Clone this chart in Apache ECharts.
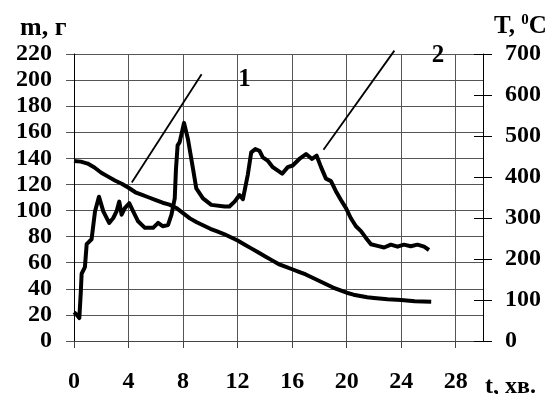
<!DOCTYPE html>
<html>
<head>
<meta charset="utf-8">
<script src="https://cdn.jsdelivr.net/npm/echarts@6/dist/echarts.min.js"></script>
<style>html,body{margin:0;padding:0;background:#fff}#c{width:558px;height:394px}</style>
</head>
<body>
<div id="c"></div>
<script>
// Curve 1: mass m, g (left axis)
const massTime = [0,0.5,1,1.5,2,2.5,3,3.5,4,4.5,5,5.5,6,6.5,7,7.5,8,8.5,9,9.5,10,10.5,11,11.5,12,12.5,13,13.5,14,14.5,15,15.5,16,16.5,17,17.5,18,18.5,19,19.5,20,20.5,21,21.5,22,23,24,25,26.2];
const massValues = [138,137.5,136,133,129,126,123,120.5,117.5,114,112,110,108,106,104.5,102,98,94,91,88.5,86,84,82,79.5,77,74,71,68,65,62,59,57,55,53,51,48.5,46,43.5,41,39,37,35.5,34.5,33.5,33,32,31.5,30.5,30];
// Curve 2: temperature T, °C (right axis)
const tempTime = [0,0.2,0.39,0.5,0.56,0.8,0.93,1.1,1.29,1.54,1.83,2.15,2.58,2.88,3.12,3.32,3.49,3.73,4.05,4.34,4.7,5.2,5.8,6.17,6.5,6.9,7.15,7.39,7.48,7.6,7.75,8.07,8.36,8.73,8.97,9.46,10.07,11.05,11.4,11.78,12.14,12.39,12.75,13.0,13.3,13.6,13.85,14.2,14.58,15.27,15.68,16.04,16.53,17.02,17.46,17.8,18.12,18.48,18.85,19.2,19.58,19.95,20.3,20.68,21.05,21.4,21.78,22.26,22.75,23.24,23.73,24.2,24.7,25.19,25.68,26.04];
const tempValues = [70,64,56,120,164,180,236,242,248,316,352,316,288,300,316,340,308,324,336,316,292,276,276,288,280,283,308,348,420,477,485,532,492,420,372,348,332,328,328,340,356,346,406,460,468,464,448,440,424,408,424,428,444,456,444,452,424,396,390,366,344,324,300,280,268,252,236,232,228,235,230,235,231,235,230,222];
// x axis ticks and labels
const xTicks = [0,4,8,12,16,20,24,28];
// Pointer lines for curve labels (time, m)
const pointer1 = [[4.24,121.5],[9.36,204.5]];
const pointer2 = [[18.3,146.6],[23.5,222.6]];
const curveLabels = [{name:'1', value:[12.5,200.8]},{name:'2', value:[26.7,218.9]}];

const zip = (a,b) => a.map((v,i)=>[v,b[i]]);
const F = '"Liberation Serif", "Times New Roman", serif';
const chart = echarts.init(document.getElementById('c'), null, {renderer:'canvas'});
chart.setOption({
  animation:false,
  backgroundColor:'#fff',
  grid:{left:74,right:75,top:54,bottom:49,containLabel:false},
  title:[
    {text:'m, г', left:15, top:10, textStyle:{fontFamily:F,fontWeight:'bold',fontSize:26,color:'#000'}},
    {text:'{a|T, }{b|0}{a|C}', left:489, top:8, textStyle:{rich:{
      a:{fontFamily:F,fontWeight:'bold',fontSize:25,color:'#000'},
      b:{fontFamily:F,fontWeight:'bold',fontSize:15,color:'#000',verticalAlign:'top',padding:[0,0,12,0]}}}},
    {text:'t, хв.', left:480, top:370, textStyle:{fontFamily:F,fontWeight:'bold',fontSize:24,color:'#000'}}
  ],
  xAxis:{type:'value',min:0,max:30,interval:4,
    axisLine:{show:true,onZero:false,lineStyle:{color:'#444',width:1}},
    axisTick:{show:true,length:7,lineStyle:{color:'#444'}},
    axisLabel:{margin:29,fontFamily:F,fontWeight:'bold',fontSize:24,color:'#000',
      showMaxLabel:false, formatter:v=>xTicks.includes(v)?String(v):''},
    splitLine:{show:true,lineStyle:{color:'#555',width:1}}},
  yAxis:[
    {type:'value',min:0,max:220,interval:20,position:'left',
      axisLine:{show:true,lineStyle:{color:'#000',width:1}},
      axisTick:{show:true,length:8,lineStyle:{color:'#555'}},
      axisLabel:{margin:22,fontFamily:F,fontWeight:'bold',fontSize:24,color:'#000'},
      splitLine:{show:true,lineStyle:{color:'#555',width:1}}},
    {type:'value',min:0,max:700,interval:100,position:'right',
      axisLine:{show:true,lineStyle:{color:'#000',width:1}},
      axisTick:{show:true,length:9,lineStyle:{color:'#000'}},
      axisLabel:{margin:22,fontFamily:F,fontWeight:'bold',fontSize:24,color:'#000'},
      splitLine:{show:false}},
    {type:'value',min:0,max:700,interval:100,position:'right',
      axisLine:{show:false},
      axisTick:{show:true,inside:true,length:9,lineStyle:{color:'#000'}},
      axisLabel:{show:false},
      splitLine:{show:false}}
  ],
  series:[
    {type:'line',name:'m',data:zip(massTime,massValues),yAxisIndex:0,showSymbol:false,
      lineStyle:{color:'#000',width:4},z:5},
    {type:'line',name:'T',data:zip(tempTime,tempValues),yAxisIndex:1,showSymbol:false,
      lineStyle:{color:'#000',width:4,join:'round'},z:5},
    {type:'line',data:pointer1,yAxisIndex:0,showSymbol:false,clip:false,lineStyle:{color:'#000',width:1.8},z:6},
    {type:'line',data:pointer2,yAxisIndex:0,showSymbol:false,clip:false,lineStyle:{color:'#000',width:1.8},z:6},
    {type:'scatter',data:curveLabels,yAxisIndex:0,symbolSize:1,clip:false,
      itemStyle:{opacity:0,color:'#000'},
      label:{show:true,position:'inside',opacity:1,formatter:p=>p.name,fontFamily:F,fontWeight:'bold',fontSize:25,color:'#000',textBorderWidth:0},
      z:7}
  ]
});
</script>
</body>
</html>
